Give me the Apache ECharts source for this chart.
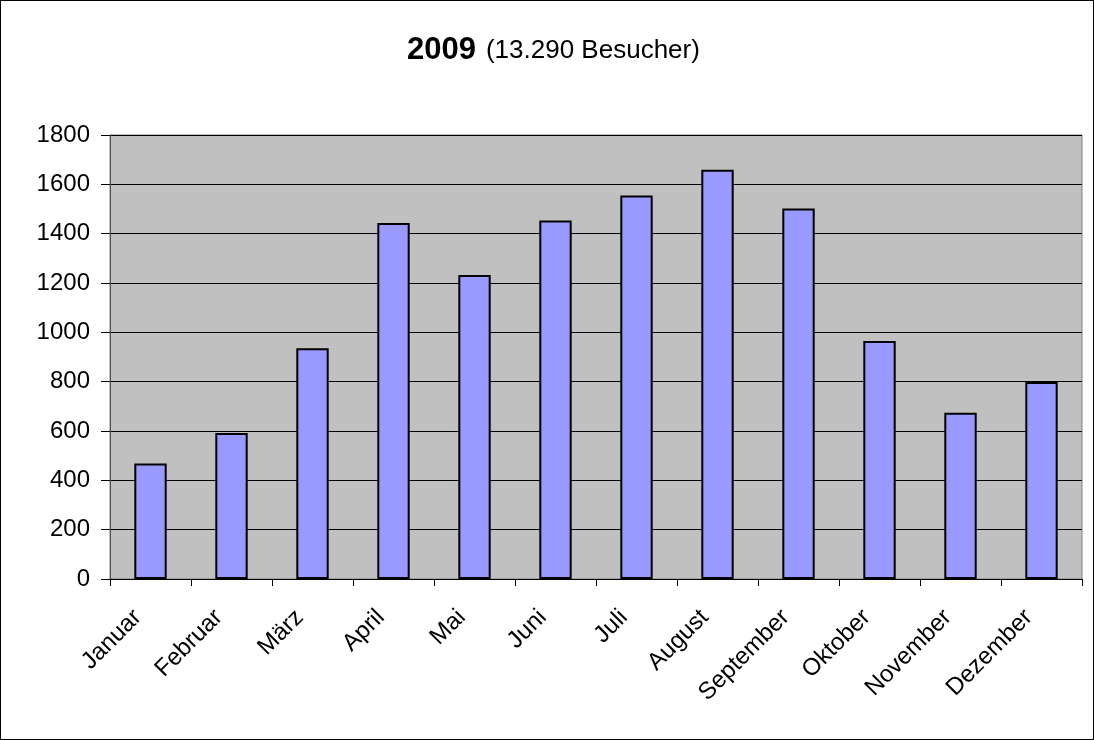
<!DOCTYPE html>
<html>
<head>
<meta charset="utf-8">
<script src="https://cdn.jsdelivr.net/npm/echarts@6/dist/echarts.min.js"></script>
<style>
  html, body { margin: 0; padding: 0; background: #fff; }
  #chart { width: 1094px; height: 740px; box-sizing: border-box; border: 1px solid #000; }
</style>
</head>
<body>
<div id="chart"></div>
<script>
// Besucher pro Monat 2009
var months = ["Januar", "Februar", "März", "April", "Mai", "Juni", "Juli", "August", "September", "Oktober", "November", "Dezember"];
var visitors = [468, 592, 935, 1443, 1232, 1453, 1555, 1659, 1502, 965, 674, 799];
var yTicks = [0, 200, 400, 600, 800, 1000, 1200, 1400, 1600, 1800];

var chart = echarts.init(document.getElementById("chart"));
var option = {
    animation: false,
    textStyle: { fontFamily: "Liberation Sans, Arial, sans-serif" },
    title: {
        text: "{b|2009} {n|(13.290 Besucher)}",
        left: 406,
        top: 34,
        padding: 0,
        textStyle: {
            rich: {
                b: { fontSize: 31, fontWeight: "bold", color: "#000", fontFamily: "Liberation Sans" },
                n: { fontSize: 26, fontWeight: "normal", color: "#000", fontFamily: "Liberation Sans", padding: [0, 0, 0, 5] }
            }
        }
    },
    grid: {
        left: 109,
        top: 134,
        right: 11,
        bottom: 160,
        show: true,
        backgroundColor: "#c0c0c0",
        borderColor: "#808080",
        borderWidth: 1
    },
    xAxis: {
        type: "category",
        data: months,
        axisLine: { lineStyle: { color: "#000", width: 1 } },
        axisTick: { show: true, length: 7, lineStyle: { color: "#000" } },
        axisLabel: {
            rotate: 45, fontSize: 24, color: "#000", margin: 22, interval: 0,
            padding: [0, 18, 0, 0]
        }
    },
    yAxis: {
        type: "value",
        min: yTicks[0],
        max: yTicks[yTicks.length - 1],
        interval: 200,
        axisLine: { show: true, lineStyle: { color: "#505050" } },
        axisTick: { show: true, length: 9, lineStyle: { color: "#000" } },
        axisLabel: { fontSize: 24, color: "#000", margin: 20, formatter: function (v) { return String(v); } },
        splitLine: { lineStyle: { color: "#000", width: 1 } }
    },
    series: [{
        name: "Besucher",
        type: "bar",
        data: visitors,
        barWidth: "40%",
        itemStyle: { color: "#9999ff", borderColor: "#000", borderWidth: 2 }
    }]
};
chart.setOption(option);
</script>
</body>
</html>
